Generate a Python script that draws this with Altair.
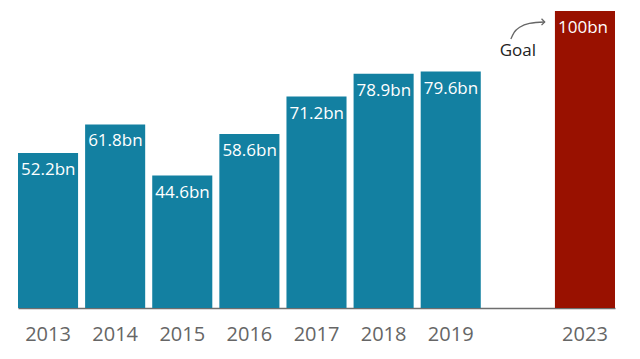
import altair as alt
import pandas as pd

years = ["2013", "2014", "2015", "2016", "2017", "2018", "2019", "2023"]
values = [52.2, 61.8, 44.6, 58.6, 71.2, 78.9, 79.6, 100.0]
labels = ["52.2bn", "61.8bn", "44.6bn", "58.6bn", "71.2bn", "78.9bn", "79.6bn", "100bn"]
kinds = ["actual"] * 7 + ["goal"]

domain = ["2013", "2014", "2015", "2016", "2017", "2018", "2019", " ", "2023"]

# annotation arrow path, in band-index units (x) and value units (y)
arrow_x = [7.43, 7.48, 7.57, 7.71, 7.94]
arrow_y = [90.6, 92.8, 94.6, 95.8, 96.3]

df = pd.DataFrame({"year": years, "value": values, "label": labels, "kind": kinds})

FONT = "Open Sans"

xscale = alt.Scale(domain=domain, paddingInner=0.105, paddingOuter=0)
yscale = alt.Scale(domain=[0, 100], nice=False)

x = alt.X("year:N", scale=xscale, sort=domain,
          axis=alt.Axis(title=None, labelAngle=0, ticks=False, domainColor="#6e6e6e",
                        domainWidth=1.5, labelColor="#666666", labelFontSize=20,
                        labelFont=FONT, labelPadding=16, grid=False))
y = alt.Y("value:Q", scale=yscale, axis=None)

bars = alt.Chart(df).mark_bar().encode(
    x=x, y=y,
    color=alt.Color("kind:N", scale=alt.Scale(domain=["actual", "goal"], range=["#1380A1", "#991100"]), legend=None),
)

text = alt.Chart(df).mark_text(align="left", baseline="alphabetic", dx=-27, dy=22,
                               color="white", fontSize=17, font=FONT).encode(
    x=x, y=y, text="label:N")

ann_df = pd.DataFrame({"year": ["2023"], "value": [85.0], "label": ["Goal"]})

goal = alt.Chart(ann_df).mark_text(align="right", baseline="alphabetic", dx=-49,
                                   color="#222222", fontSize=17, font=FONT).encode(
    x=x, y=y, text="label:N")

arrow_df = pd.DataFrame({"ax": arrow_x, "ay": arrow_y, "order": list(range(len(arrow_x)))})
ax = alt.X("ax:Q", scale=alt.Scale(domain=[0, 9], nice=False, zero=False), axis=None)

arrow_line = alt.Chart(arrow_df).mark_line(color="#666666", strokeWidth=1.3, interpolate="monotone").encode(
    x=ax, y=alt.Y("ay:Q", scale=yscale, axis=None), order="order:Q")

arrow_head = alt.Chart(arrow_df.tail(1)).mark_point(
    shape="M-1,-1L0,0L-1,1", filled=False, color="#666666", strokeWidth=1.3, size=40, opacity=1).encode(
    x=ax, y=alt.Y("ay:Q", scale=yscale, axis=None))

arrow = alt.layer(arrow_line, arrow_head)

chart = alt.layer(alt.layer(bars, text, goal), arrow).resolve_scale(x="independent").properties(
    width=597, height=297,
    padding={"left": 10, "top": 3, "right": 5, "bottom": 5},
).configure_view(stroke=None)

chart.save("out.html", embed_options={"renderer": "svg", "actions": False})
